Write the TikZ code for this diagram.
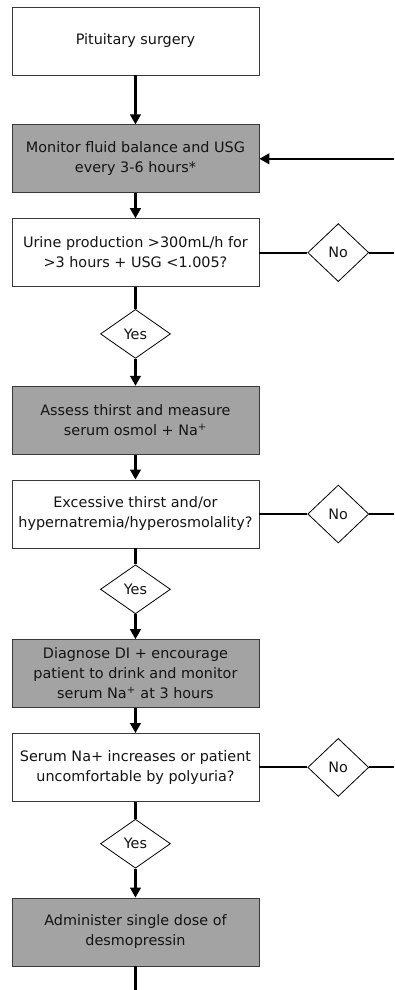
\documentclass[tikz,border=0pt]{standalone}
\usepackage{fontspec}
\setmainfont{DejaVu Sans}
\usepackage{xcolor}
\usepackage{tikz}
\usetikzlibrary{positioning,arrows.meta,shapes.geometric}
\definecolor{DIgray}{HTML}{A3A3A3}
\definecolor{DIedge}{HTML}{3A3A3A}
\definecolor{DItext}{HTML}{141414}
\newcommand{\naplus}{Na\textsuperscript{+}}
\tikzset{
  stepbox/.style={draw=DIedge, fill=white, line width=0.6pt, align=center, minimum width=185.25pt, minimum height=51pt, inner sep=1pt, font=\fontsize{10.8pt}{15pt}\selectfont, text=DItext},
  graybox/.style={stepbox, fill=DIgray},
  yesdia/.style={diamond, draw=black, line width=0.6pt, fill=white, minimum width=52.5pt, minimum height=36.75pt, inner sep=0pt, font=\fontsize{10.8pt}{15pt}\selectfont, text=DItext},
  nodia/.style={yesdia, minimum width=45.75pt, minimum height=43.5pt},
  flowarr/.style={-{Triangle[length=7.5pt,width=8pt]}, line width=1.6pt, draw=black},
  flowline/.style={line width=1.6pt, draw=black}
}

\begin{document}
\begin{tikzpicture}[node distance=18.75pt]
\useasboundingbox (0,0) rectangle (295.5pt,-742.5pt);
\coordinate (re) at (295.5pt,0);
\coordinate (bot) at (0,-742.5pt);
% main column
\node[stepbox] (b1) at (101.6pt,-30.75pt) {Pituitary surgery};
\node[graybox, below=36.75pt of b1] (b2) {Monitor fluid balance and USG\\every 3-6 hours*};
\node[stepbox, below=of b2] (b3) {Urine production >300mL/h for\\>3 hours + USG <1.005?};
\node[yesdia, below=16.5pt of b3] (y1) {Yes};
\node[graybox, below=20.25pt of y1] (b4) {Assess thirst and measure\\serum osmol + \naplus};
\node[stepbox, below=of b4] (b5) {Excessive thirst and/or\\hypernatremia/hyperosmolality?};
\node[yesdia, below=12pt of b5] (y2) {Yes};
\node[graybox, below=of y2] (b6) {Diagnose DI + encourage\\patient to drink and monitor\\serum \naplus{} at 3 hours};
\node[stepbox, below=of b6] (b7) {Serum Na+ increases or patient\\uncomfortable by polyuria?};
\node[yesdia, below=12.75pt of b7] (y3) {Yes};
\node[graybox, below=21.75pt of y3] (b8) {Administer single dose of\\desmopressin};
% no branches
\node[nodia, right=36pt of b3] (n1) {No};
\node[nodia, right=36pt of b5] (n2) {No};
\node[nodia, right=36pt of b7] (n3) {No};

\draw[flowarr] (b1) -- (b2);
\draw[flowarr] (b2) -- (b3);
\draw[flowline] (b3) -- (y1);
\draw[flowarr] (y1) -- (b4);
\draw[flowarr] (b4) -- (b5);
\draw[flowline] (b5) -- (y2);
\draw[flowarr] (y2) -- (b6);
\draw[flowarr] (b6) -- (b7);
\draw[flowline] (b7) -- (y3);
\draw[flowarr] (y3) -- (b8);
\draw[flowline] (b8) -- (b8.south |- bot);
\draw[flowarr] (b2.east -| re) -- (b2);
\draw[flowline] (b3) -- (n1);
\draw[flowline] (n1) -- (n1 -| re);
\draw[flowline] (b5) -- (n2);
\draw[flowline] (n2) -- (n2 -| re);
\draw[flowline] (b7) -- (n3);
\draw[flowline] (n3) -- (n3 -| re);
\end{tikzpicture}
\end{document}
